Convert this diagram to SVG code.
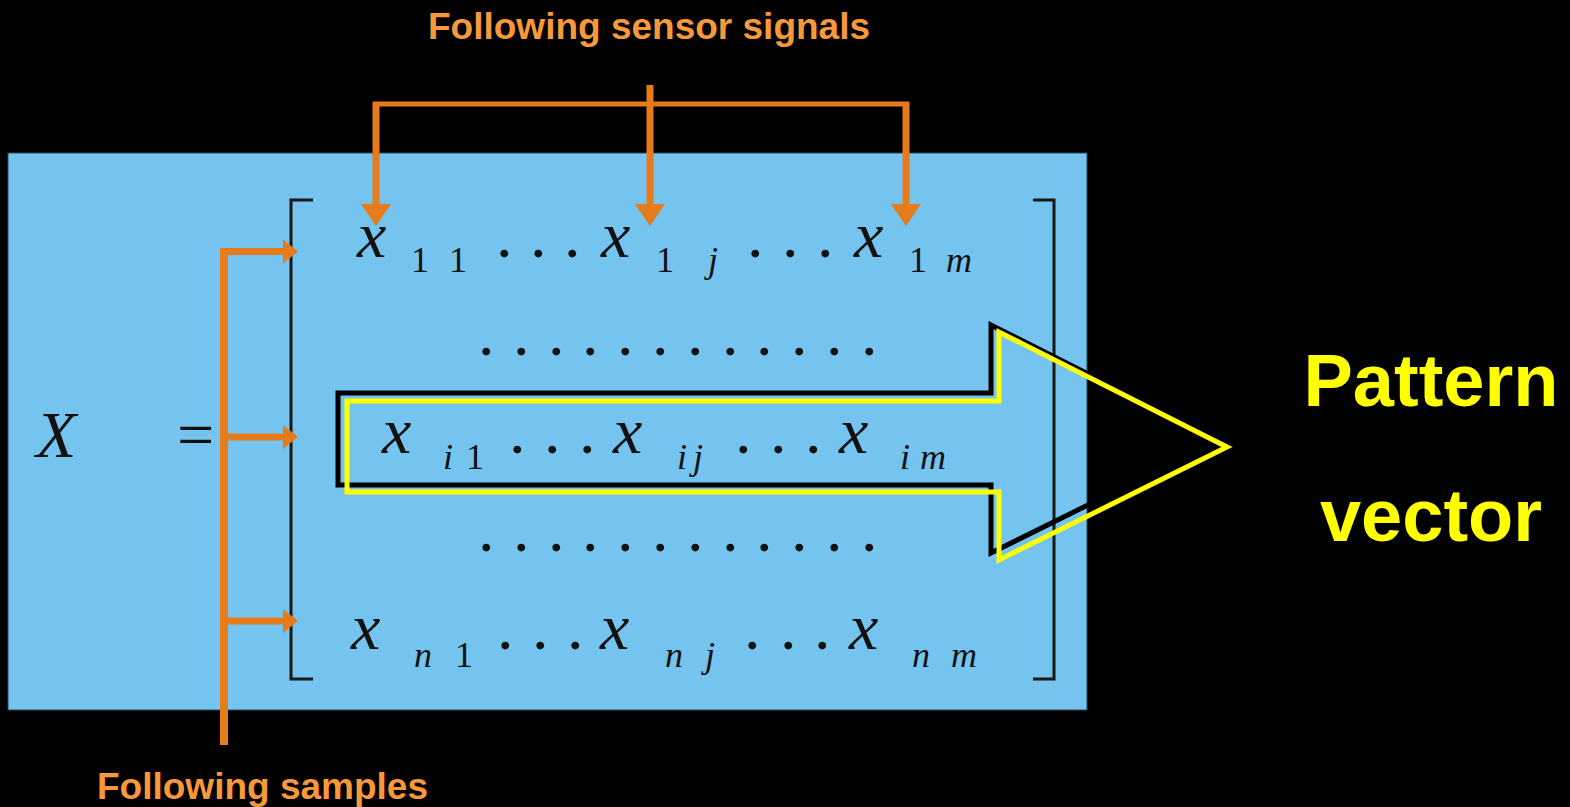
<svg xmlns="http://www.w3.org/2000/svg" width="1570" height="807" viewBox="0 0 1570 807">
<defs>
<style>
.orange{stroke:#E67B1C;stroke-width:7;fill:none}
.brk{stroke:#161616;stroke-width:3;fill:none}
.mx{font-family:"Liberation Serif","Times New Roman",serif;font-style:italic;font-size:66px;fill:#111}
.sub{font-family:"Liberation Serif","Times New Roman",serif;font-size:36px;fill:#111}
.subi{font-family:"Liberation Serif","Times New Roman",serif;font-style:italic;font-size:36px;fill:#111}
.dots{font-family:"Liberation Serif","Times New Roman",serif;font-size:66px;fill:#111}
.lbl{font-family:"Liberation Sans",Arial,sans-serif;font-weight:bold;font-size:37px;fill:#F7993A}
.big{font-family:"Liberation Sans",Arial,sans-serif;font-weight:bold;font-size:74px;fill:#FFFF00;text-anchor:middle}
</style>
<marker id="ahR" markerUnits="userSpaceOnUse" markerWidth="15" markerHeight="24" refX="3" refY="12" orient="auto">
<path d="M0,0 L15,12 L0,24 z" fill="#E67B1C"/>
</marker>
<marker id="ahD" markerUnits="userSpaceOnUse" markerWidth="22" markerHeight="30" refX="2" refY="15" orient="auto">
<path d="M0,0 L22,15 L0,30 z" fill="#E67B1C"/>
</marker>
</defs>
<rect x="0" y="0" width="1570" height="807" fill="#000"/>
<g id="matrix-panel">
<rect x="8" y="153" width="1079" height="557" fill="#75C4EF" stroke="#2a4a5a" stroke-width="1"/>
</g>
<g id="equation">
<text class="mx" x="36" y="457">X</text>
<text class="dots" x="177" y="457">=</text>
<polyline class="brk" points="313,200 291,200 291,679 313,679"/>
<polyline class="brk" points="1033,200 1054,200 1054,679 1033,679"/>
</g>
<g id="row-1">
<text class="mx" x="357" y="257">x</text>
<text class="sub" x="411" y="272">1</text>
<text class="sub" x="449" y="272">1</text>
<text class="dots" x="496 530 564" y="257">...</text>
<text class="mx" x="601" y="257">x</text>
<text class="sub" x="656" y="272">1</text>
<text class="subi" x="708" y="272">j</text>
<text class="dots" x="747 782 817" y="257">...</text>
<text class="mx" x="854" y="257">x</text>
<text class="sub" x="909" y="272">1</text>
<text class="subi" x="946" y="272">m</text>
</g>
<g id="row-2">
<text class="dots" x="478 513 548 582 617 652 687 722 756 791 826 861" y="355">............</text>
</g>
<g id="row-i">
<text class="mx" x="382" y="453">x</text>
<text class="subi" x="443" y="469">i</text>
<text class="sub" x="466" y="469">1</text>
<text class="dots" x="509 544 579" y="453">...</text>
<text class="mx" x="613" y="453">x</text>
<text class="subi" x="677" y="469">i</text>
<text class="subi" x="693" y="469">j</text>
<text class="dots" x="735 770 805" y="453">...</text>
<text class="mx" x="839" y="453">x</text>
<text class="subi" x="900" y="469">i</text>
<text class="subi" x="920" y="469">m</text>
</g>
<g id="row-4">
<text class="dots" x="478 513 548 582 617 652 687 722 756 791 826 861" y="551">............</text>
</g>
<g id="row-n">
<text class="mx" x="351" y="649">x</text>
<text class="subi" x="414" y="667">n</text>
<text class="sub" x="455" y="667">1</text>
<text class="dots" x="497 532 567" y="649">...</text>
<text class="mx" x="600" y="649">x</text>
<text class="subi" x="665" y="667">n</text>
<text class="subi" x="705" y="667">j</text>
<text class="dots" x="744 780 814" y="649">...</text>
<text class="mx" x="849" y="649">x</text>
<text class="subi" x="912" y="667">n</text>
<text class="subi" x="951" y="667">m</text>
</g>
<g id="pattern-arrow">
<polygon points="338,393 991,393 991,325 1219,440 991,553 991,485 338,485" fill="none" stroke="#000" stroke-width="5"/>
<polygon points="347,401 999,401 999,332 1227,447 999,560 999,492 347,492" fill="none" stroke="#FFFF00" stroke-width="5"/>
</g>
<g id="labels">
<text class="lbl" x="428" y="39">Following sensor signals</text>
<text class="lbl" x="97" y="799">Following samples</text>
<text class="big" x="1431" y="406">Pattern</text>
<text class="big" x="1431" y="541">vector</text>
</g>
<g id="connectors">
<path class="orange" d="M373,104 H909" style="stroke-width:5"/>
<path class="orange" d="M376,102 V206" marker-end="url(#ahD)"/>
<path class="orange" d="M650,85 V206" marker-end="url(#ahD)"/>
<path class="orange" d="M906,102 V206" marker-end="url(#ahD)"/>
<path class="orange" d="M224,248 V745" style="stroke-width:8"/>
<path class="orange" d="M224,251.5 H286" marker-end="url(#ahR)"/>
<path class="orange" d="M224,437 H286" marker-end="url(#ahR)"/>
<path class="orange" d="M224,621 H286" marker-end="url(#ahR)"/>
</g>
</svg>
